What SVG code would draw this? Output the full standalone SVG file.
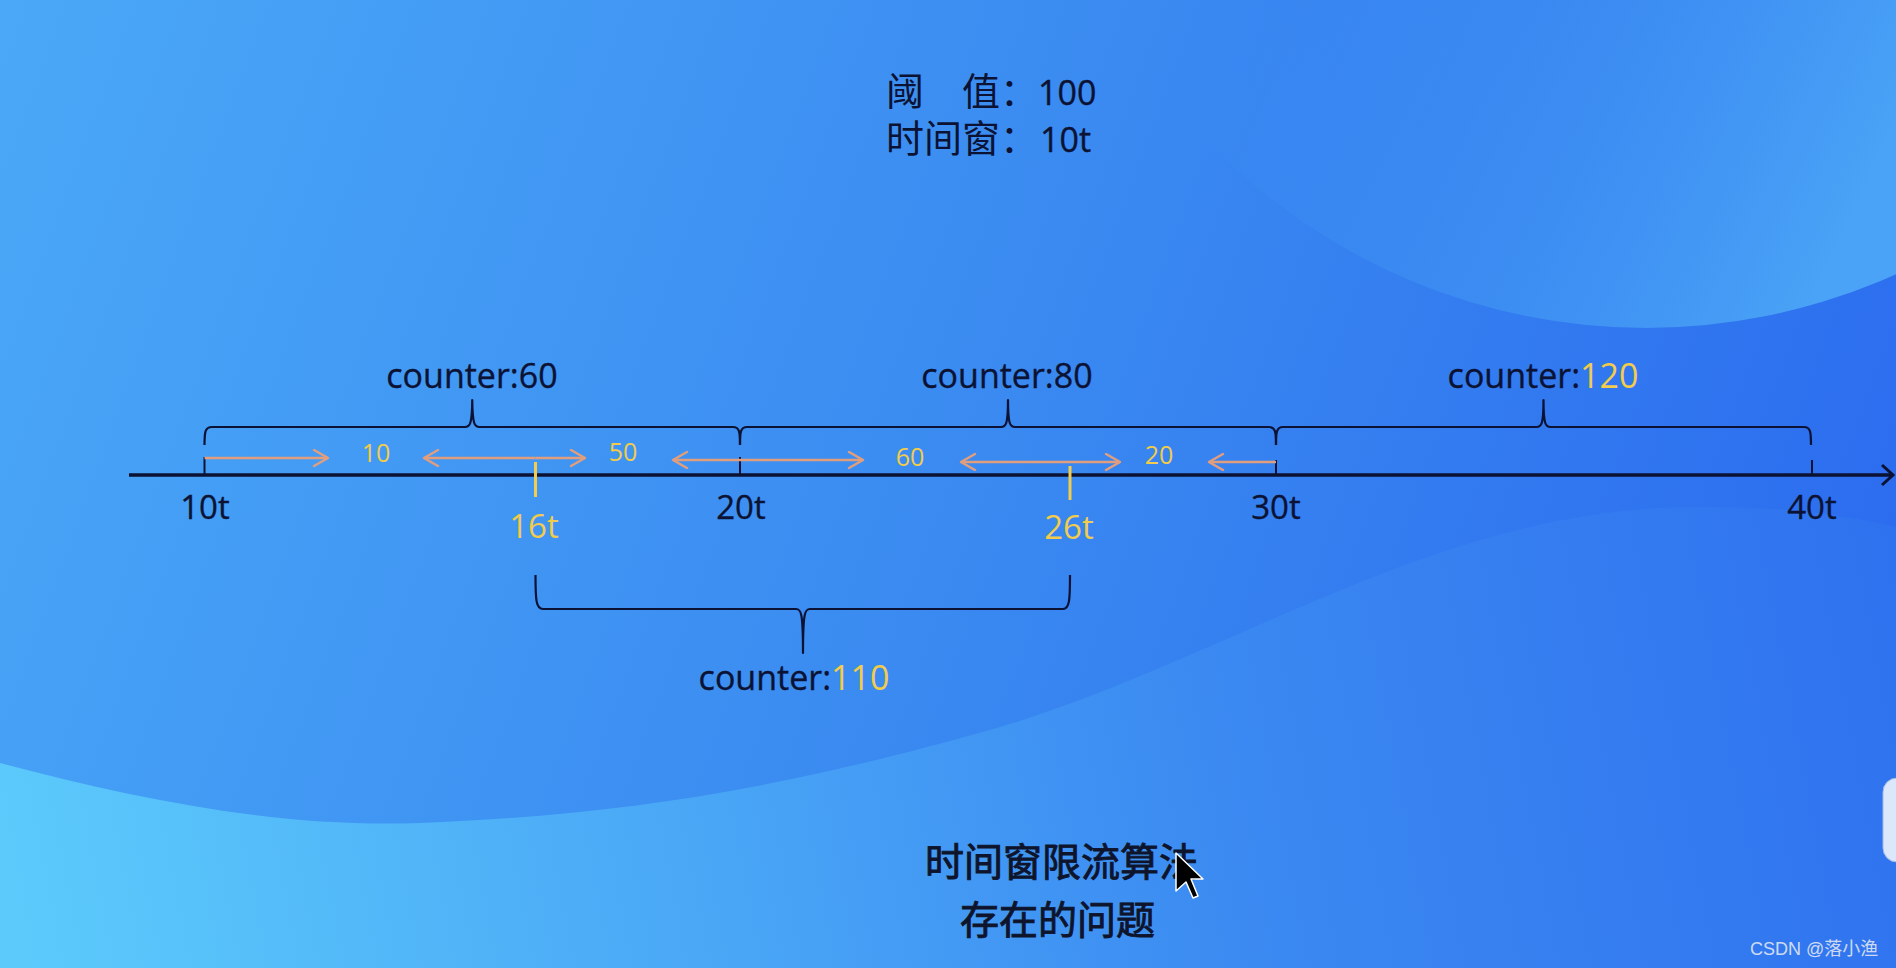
<svg xmlns="http://www.w3.org/2000/svg" width="1896" height="968" viewBox="0 0 1896 968">
<defs>
<linearGradient id="bg" gradientUnits="userSpaceOnUse" x1="0" y1="0" x2="1896" y2="700">
<stop offset="0" stop-color="#4aa8f7"/>
<stop offset="0.5" stop-color="#3b8cf1"/>
<stop offset="1" stop-color="#2b6bef"/>
</linearGradient>
<linearGradient id="circ" gradientUnits="userSpaceOnUse" x1="1230" y1="60" x2="1800" y2="330">
<stop offset="0" stop-color="#3f92f3" stop-opacity="0"/>
<stop offset="0.45" stop-color="#3f93f3" stop-opacity="0.6"/>
<stop offset="1" stop-color="#4aa3f6" stop-opacity="1"/>
</linearGradient>
<linearGradient id="wave" gradientUnits="userSpaceOnUse" x1="0" y1="920" x2="1896" y2="560">
<stop offset="0" stop-color="#5ccbfb"/>
<stop offset="0.35" stop-color="#4aa8f6"/>
<stop offset="0.65" stop-color="#3a88f1"/>
<stop offset="1" stop-color="#2f72ef"/>
</linearGradient>
<marker id="oh" markerUnits="userSpaceOnUse" markerWidth="20" markerHeight="20" refX="16" refY="9" orient="auto">
<path d="M2,1 L16,9 L2,17" fill="none" stroke="#e09e7e" stroke-width="2.5" stroke-linecap="round" stroke-linejoin="round"/>
</marker>
</defs>
<style>
.lat{font-family:"Open Sans","Liberation Sans",sans-serif}
.dk{fill:#0b1233;stroke:#0b1233;stroke-width:0.35}
.yl{fill:#f2cc4a}
.cjk{font-family:"Noto Sans CJK SC",sans-serif;fill:#0b1233}
.brace{fill:none;stroke:#0b1233;stroke-width:2.2;stroke-linejoin:round}
.tick{stroke:#0b1233;stroke-width:2}
.ytick{stroke:#f2cc4a;stroke-width:3}
.oa{fill:none;stroke:#e09e7e;stroke-width:2.5;marker-end:url(#oh)}
.cap{font-family:"Noto Sans CJK SC",sans-serif;fill:#0e142c;stroke:#0e142c;stroke-width:0.9;font-size:39px}
</style>

<g id="background">
<rect x="0" y="0" width="1896" height="968" fill="url(#bg)"/>
<circle cx="1646" cy="-280" r="608" fill="url(#circ)"/>
<path d="M0,763 C140,800 280,828 420,823 C620,815 780,790 1000,727 C1220,662 1420,520 1662,508 C1760,504 1830,512 1896,527 L1896,968 L0,968 Z" fill="url(#wave)"/>
</g>

<g id="title">
<text x="886" y="105" class="cjk" font-size="38">阈　值：</text>
<text x="1038" y="105" class="lat dk" font-size="34">100</text>
<text x="886" y="152" class="cjk" font-size="38">时间窗：</text>
<text x="1040" y="152" class="lat dk" font-size="34">10t</text>
</g>

<g id="axis">
<line x1="129" y1="475" x2="1892" y2="475" stroke="#0b1233" stroke-width="3.5"/>
<path d="M1882,465 L1893,475 L1882,485" fill="none" stroke="#0b1233" stroke-width="3"/>
<path class="tick" d="M204.5,457 V475 M740,457 V475 M1276,460 V475 M1812,460 V475"/>
<text class="lat dk" font-size="33" text-anchor="middle" x="205" y="519">10t</text>
<text class="lat dk" font-size="33" text-anchor="middle" x="741" y="519">20t</text>
<text class="lat dk" font-size="33" text-anchor="middle" x="1276" y="519">30t</text>
<text class="lat dk" font-size="33" text-anchor="middle" x="1812" y="519">40t</text>
</g>

<g id="mark-16t">
<line class="ytick" x1="535.5" y1="462" x2="535.5" y2="497"/>
<text class="lat yl" font-size="33" text-anchor="middle" x="534" y="538">16t</text>
</g>
<g id="mark-26t">
<line class="ytick" x1="1070" y1="466" x2="1070" y2="500"/>
<text class="lat yl" font-size="33" text-anchor="middle" x="1069" y="539">26t</text>
</g>

<g id="window-1">
<path class="brace" d="M204.5,445 C204.5,432 205,427 212,427 L465,427 C470,427 472,424 472.25,400 C472.5,424 474.5,427 479.5,427 L733,427 C739.5,427 740,432 740,445"/>
<text class="lat dk" font-size="34" text-anchor="middle" x="472" y="388">counter:60</text>
</g>
<g id="window-2">
<path class="brace" d="M740,445 C740,432 740.5,427 747,427 L1001,427 C1006,427 1008,424 1008,400 C1008,424 1010,427 1015,427 L1269,427 C1275.5,427 1276,432 1276,445"/>
<text class="lat dk" font-size="34" text-anchor="middle" x="1007" y="388">counter:80</text>
</g>
<g id="window-3">
<path class="brace" d="M1276,445 C1276,432 1276.5,427 1283,427 L1536.5,427 C1541.5,427 1543.5,424 1543.5,400 C1543.5,424 1545.5,427 1550.5,427 L1804,427 C1810.5,427 1811,432 1811,445"/>
<text class="lat dk" font-size="34" text-anchor="middle" x="1543" y="388">counter:<tspan class="yl" stroke="none">120</tspan></text>
</g>
<g id="window-sliding">
<path class="brace" d="M535.5,575 C535.5,600 536,609 543,609 L796,609 C801,609 803,612 803,653 C803,612 805,609 810,609 L1063,609 C1069.5,609 1070,600 1070,575"/>
<text class="lat dk" font-size="34" text-anchor="middle" x="794" y="690">counter:<tspan class="yl" stroke="none">110</tspan></text>
</g>

<g id="connectors">
<path class="oa" d="M204.5,458 H328"/>
<path class="oa" d="M535.5,458 H424"/>
<path class="oa" d="M535.5,458 H585"/>
<path class="oa" d="M740,460 H673"/>
<path class="oa" d="M740,460 H863"/>
<path class="oa" d="M1070,462 H961"/>
<path class="oa" d="M1070,462 H1120"/>
<path class="oa" d="M1276,462 H1209"/>
</g>

<g id="counts">
<text class="lat yl" font-size="25" text-anchor="middle" x="376" y="462">10</text>
<text class="lat yl" font-size="25" text-anchor="middle" x="623" y="461">50</text>
<text class="lat yl" font-size="25" text-anchor="middle" x="910" y="466">60</text>
<text class="lat yl" font-size="25" text-anchor="middle" x="1159" y="464">20</text>
</g>

<g id="caption">
<text x="925" y="876" class="cap">时间窗限流算法</text>
<text x="960" y="934" class="cap">存在的问题</text>
</g>

<g id="cursor">
<path d="M1176,853 L1176,891 L1186,882 L1193,898 L1198,896 L1191,879 L1203,879 Z" fill="#000" stroke="#fff" stroke-width="1.5" stroke-linejoin="round"/>
</g>

<g id="side-tab">
<rect x="1883" y="778" width="40" height="84" rx="14" fill="#dbe7fb" stroke="#9fb8e6" stroke-width="1"/>
</g>

<g id="watermark">
<text x="1750" y="955" font-size="18" font-family="'Liberation Sans','Noto Sans CJK SC',sans-serif" fill="#e2e8f3" fill-opacity="0.9">CSDN @落小渔</text>
</g>
</svg>
